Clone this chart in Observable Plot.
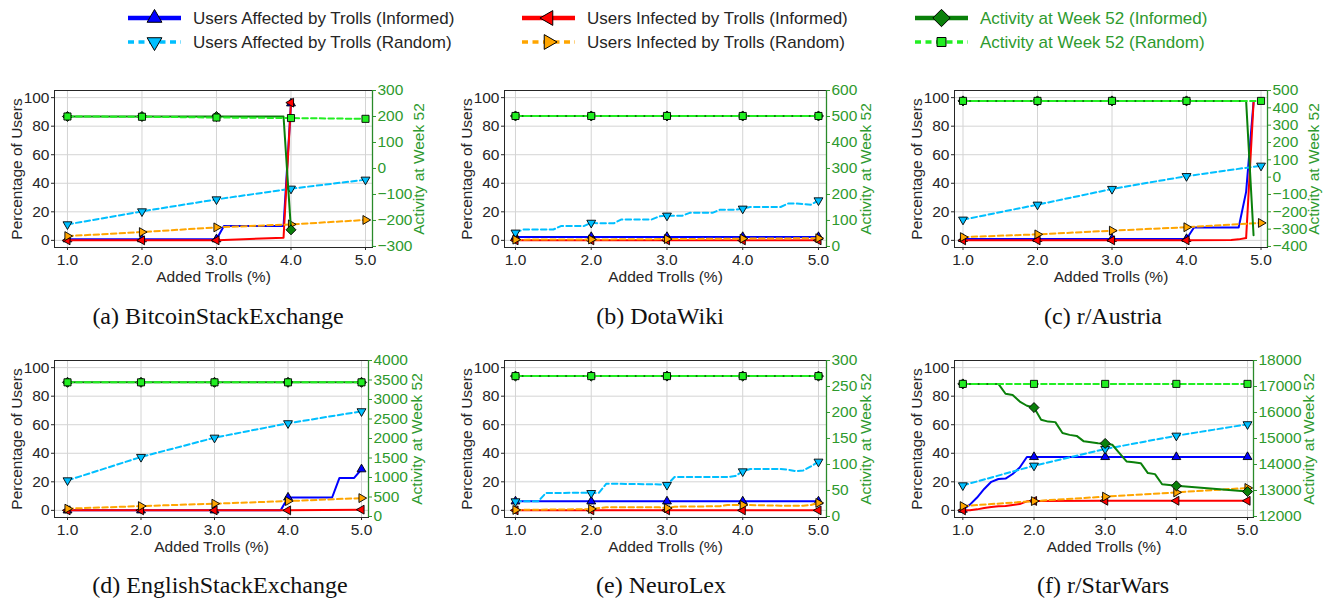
<!DOCTYPE html>
<html><head><meta charset="utf-8">
<script src="https://cdn.jsdelivr.net/npm/d3@7"></script>
<script src="https://cdn.jsdelivr.net/npm/@observablehq/plot@0.6"></script>
<style>
body{margin:0;background:#fff;}
#root{position:relative;width:1326px;height:600px;overflow:hidden;background:#fff;}
#root svg{position:absolute;}
</style></head><body><div id="root"></div>
<script>
// ---------------- data ----------------
const xTicks = [1, 2, 3, 4, 5];
const pctTicks = [0, 20, 40, 60, 80, 100];
const captions = ["(a) BitcoinStackExchange", "(b) DotaWiki", "(c) r/Austria",
                  "(d) EnglishStackExchange", "(e) NeuroLex", "(f) r/StarWars"];
const legendLabels = ["Users Affected by Trolls (Informed)", "Users Affected by Trolls (Random)",
                      "Users Infected by Trolls (Informed)", "Users Infected by Trolls (Random)",
                      "Activity at Week 52 (Informed)", "Activity at Week 52 (Random)"];

// (a) BitcoinStackExchange
const bitcoinAffInf = [[1,0.8],[2,0.8],[3,0.8],[3.1,10],[3.9,10],[4,96]];
const bitcoinAffRnd = [[1,11.2],[2,20.3],[3,28.7],[4,36.2],[5,42.5]];
const bitcoinInfInf = [[1,0],[2,0],[3,0],[3.1,0.3],[3.9,1.8],[4,96.5]];
const bitcoinInfRnd = [[1,3],[2,5.8],[3,9.1],[4,11.2],[5,14.3]];
const bitcoinActInf = [[1,200],[2,200],[3,200],[3.9,200],[4,-236]];
const bitcoinActRnd = [[1,200],[2,199],[3,196],[4,194],[5,191]];
const bitcoinActTicks = [-300,-200,-100,0,100,200,300];

// (b) DotaWiki
const dotaAffInf = [[1,2.4],[2,2.4],[3,2.4],[4,2.4],[5,2.4]];
const dotaAffRnd = [[1,5.4],[1.1,7.6],[1.5,7.6],[1.6,10],[1.9,10],[2,12.3],[2.1,12],[2.3,12],[2.4,14.7],[2.8,14.7],[2.9,16.8],[3,17.3],[3.2,17.2],[3.3,19.3],[3.6,19.3],[3.7,21.5],[3.9,21.5],[4,22.2],[4.1,23.4],[4.5,23.4],[4.6,25.8],[4.7,25.8],[4.9,25],[5,28]];
const dotaInfInf = [[1,0],[2,0],[3,0],[4,0],[5,0]];
const dotaInfRnd = [[1,0.5],[2,0.6],[3,0.9],[4,1.2],[5,1.5]];
const dotaActInf = [[1,502],[2,502],[3,502],[4,502],[5,502]];
const dotaActRnd = [[1,502],[2,502],[3,502],[4,502],[5,502]];
const dotaActTicks = [0,100,200,300,400,500,600];

// (c) r/Austria
const austriaAffInf = [[1,1],[2,1],[3,1],[4,1],[4.1,9],[4.7,9],[4.8,34],[4.9,97]];
const austriaAffRnd = [[1,14.5],[2,25],[3,36],[4,45],[5,52.3]];
const austriaInfInf = [[1,0],[2,0],[3,0],[4,0],[4.6,0.3],[4.7,0.7],[4.8,1.6],[4.9,96.5]];
const austriaInfRnd = [[1,2.3],[2,4.2],[3,6.8],[4,9.2],[5,12.2]];
const austriaActInf = [[1,440],[2,440],[3,440],[4,440],[4.8,440],[4.9,-335]];
const austriaActRnd = [[1,440],[2,440],[3,440],[4,440],[5,440]];
const austriaActTicks = [-400,-300,-200,-100,0,100,200,300,400,500];

// (d) EnglishStackExchange
const englishAffInf = [[1,0],[2,0],[3,0],[3.9,0],[4,9],[4.6,9],[4.7,22.7],[4.9,22.7],[5,28.8]];
const englishAffRnd = [[1,21],[2,37.4],[3,50.9],[4,61],[5,69.4]];
const englishInfInf = [[1,0],[2,0],[3,0],[4,0],[5,0.5]];
const englishInfRnd = [[1,1.2],[2,3],[3,4.7],[4,6.5],[5,8.6]];
const englishActInf = [[1,3440],[2,3440],[3,3440],[4,3440],[5,3440]];
const englishActRnd = [[1,3440],[2,3440],[3,3440],[4,3440],[5,3440]];
const englishActTicks = [0,500,1000,1500,2000,2500,3000,3500,4000];

// (e) NeuroLex
const neuroAffInf = [[1,6.3],[2,6.3],[3,6.3],[4,6.3],[5,6.3]];
const neuroAffRnd = [[1,6.3],[1.3,6.3],[1.4,12.1],[1.9,12.4],[2,12.1],[2.1,12.3],[2.2,18.7],[2.9,18.2],[3,17.8],[3.1,23.4],[3.8,23.4],[3.9,24],[4,27.3],[4.1,29],[4.5,29],[4.6,28.5],[4.7,27.5],[4.8,28],[4.9,30.8],[5,34.1]];
const neuroInfInf = [[1,0],[2,0],[3,0],[4,0],[5,0]];
const neuroInfRnd = [[1,0.3],[1.9,0.8],[2,1],[2.2,2.2],[2.9,2.1],[3,1.6],[3.1,2.6],[3.7,2.9],[3.8,3.8],[4,3.8],[4.5,3.3],[4.8,3.3],[4.9,3.8],[5,5.2]];
const neuroActInf = [[1,270],[2,270],[3,270],[4,270],[5,270]];
const neuroActRnd = [[1,270],[2,270],[3,270],[4,270],[5,270]];
const neuroActTicks = [0,50,100,150,200,250,300];

// (f) r/StarWars
const starwarsAffInf = [[1,0.5],[1.1,4],[1.2,9],[1.3,15],[1.4,20],[1.5,22],[1.6,22.3],[1.7,25.5],[1.8,30],[1.9,37.4],[2,37.4],[3,37.4],[4,37.4],[5,37.4]];
const starwarsAffRnd = [[1,17.5],[2,31.3],[3,43],[4,52.3],[5,60.3]];
const starwarsInfInf = [[1,0],[1.1,0],[1.2,0.7],[1.3,1.6],[1.4,2.3],[1.5,2.8],[1.6,3],[1.7,3.7],[1.8,4.4],[1.9,6.3],[2,6.6],[3,6.7],[4,6.7],[5,6.7]];
const starwarsInfRnd = [[1,3],[2,6.5],[3,9.6],[4,12.6],[5,15.7]];
const starwarsActInf = [[1,17100],[1.5,17100],[1.6,16720],[1.7,16670],[1.8,16420],[1.9,16260],[2,16190],[2.1,15720],[2.2,15650],[2.3,15630],[2.4,15210],[2.5,15140],[2.6,15100],[2.7,14890],[2.8,14860],[2.9,14820],[3,14810],[3.1,14760],[3.2,14440],[3.3,14120],[3.4,14090],[3.5,14050],[3.6,13670],[3.7,13630],[3.8,13240],[3.9,13210],[4,13180],[5,12960]];
const starwarsActRnd = [[1,17100],[2,17100],[3,17100],[4,17100],[5,17100]];
const starwarsActTicks = [12000,13000,14000,15000,16000,17000,18000];

const panels = [
  {affInf: bitcoinAffInf, affRnd: bitcoinAffRnd, infInf: bitcoinInfInf, infRnd: bitcoinInfRnd, actInf: bitcoinActInf, actRnd: bitcoinActRnd, actTicks: bitcoinActTicks},
  {affInf: dotaAffInf, affRnd: dotaAffRnd, infInf: dotaInfInf, infRnd: dotaInfRnd, actInf: dotaActInf, actRnd: dotaActRnd, actTicks: dotaActTicks},
  {affInf: austriaAffInf, affRnd: austriaAffRnd, infInf: austriaInfInf, infRnd: austriaInfRnd, actInf: austriaActInf, actRnd: austriaActRnd, actTicks: austriaActTicks},
  {affInf: englishAffInf, affRnd: englishAffRnd, infInf: englishInfInf, infRnd: englishInfRnd, actInf: englishActInf, actRnd: englishActRnd, actTicks: englishActTicks},
  {affInf: neuroAffInf, affRnd: neuroAffRnd, infInf: neuroInfInf, infRnd: neuroInfRnd, actInf: neuroActInf, actRnd: neuroActRnd, actTicks: neuroActTicks},
  {affInf: starwarsAffInf, affRnd: starwarsAffRnd, infInf: starwarsInfInf, infRnd: starwarsInfRnd, actInf: starwarsActInf, actRnd: starwarsActRnd, actTicks: starwarsActTicks},
];

// ---------------- layout & styles ----------------
const layout = [
  {left:54,  right:372,  top:90,  bottom:247, xDomain:[0.826,5.094], actDomain:[-304,300],    rLabel:51},
  {left:504, right:826,  top:90,  bottom:247, xDomain:[0.855,5.106], actDomain:[-4,600],      rLabel:44},
  {left:954, right:1267, top:90,  bottom:247, xDomain:[0.886,5.087], actDomain:[-406,500],    rLabel:51},
  {left:54,  right:368,  top:360, bottom:517, xDomain:[0.823,5.095], actDomain:[-26,4000],    rLabel:53},
  {left:504, right:826,  top:360, bottom:517, xDomain:[0.855,5.106], actDomain:[-2,300],      rLabel:44},
  {left:954, right:1253, top:360, bottom:517, xDomain:[0.883,5.084], actDomain:[11962,18000], rLabel:60},
];
const captionPos = [[218,324],[660,324],[1103,324],[220,593],[661,593],[1103,593]];

function rotTri(angle){
  return {draw(ctx, size){
    const y = -Math.sqrt(size / (Math.sqrt(3) * 3));
    const pts = [[0, 2*y], [-Math.sqrt(3)*y, -y], [Math.sqrt(3)*y, -y]];
    const c = Math.cos(angle), s = Math.sin(angle);
    pts.forEach(([px, py], k) => { const X = px*c - py*s, Y = px*s + py*c; k ? ctx.lineTo(X, Y) : ctx.moveTo(X, Y); });
    ctx.closePath();
  }};
}
const triUp = rotTri(0), triDown = rotTri(Math.PI), triLeft = rotTri(-Math.PI/2), triRight = rotTri(Math.PI/2);
const diamondSym = {draw(ctx, size){ const r = Math.sqrt(size/2); ctx.moveTo(0,-r); ctx.lineTo(r,0); ctx.lineTo(0,r); ctx.lineTo(-r,0); ctx.closePath(); }};
const squareSym = {draw(ctx, size){ const h = Math.sqrt(size)/2; ctx.moveTo(-h,-h); ctx.lineTo(h,-h); ctx.lineTo(h,h); ctx.lineTo(-h,h); ctx.closePath(); }};

const DASH = "5.5,3.2";
const styles = {
  affInf: {color:"#0000ff", dash:null, sym:triUp,    r:3.3},
  affRnd: {color:"#00bfff", dash:DASH, sym:triDown,  r:3.3},
  infInf: {color:"#ff0000", dash:null, sym:triLeft,  r:3.3},
  infRnd: {color:"#ffa500", dash:DASH, sym:triRight, r:3.3},
  actInf: {color:"#0a800a", dash:null, sym:diamondSym, r:4.0},
  actRnd: {color:"#22ee22", dash:DASH, sym:squareSym,  r:4.0},
};
const GREEN_TEXT = "#2e9a2e";
const FONT = "'Liberation Sans', Arial, Helvetica, sans-serif";
const numFmt = d => (d < 0 ? "\u2212" + Math.abs(d) : String(d));

const root = document.getElementById("root");

function seriesMarks(data, st){
  const onInt = data.filter(d => Math.abs(d[0] - Math.round(d[0])) < 1e-9);
  return [
    Plot.line(data, {x: d => d[0], y: d => d[1], stroke: st.color, strokeWidth: 2, strokeDasharray: st.dash || undefined}),
    Plot.dot(onInt, {x: d => d[0], y: d => d[1], symbol: st.sym, r: st.r, fill: st.color, stroke: "#000", strokeWidth: 0.9})
  ];
}

const ML = 60, MR = 70, MT = 10, MB = 50;
panels.forEach((P, i) => {
  const L = layout[i];
  const width = (L.right - L.left) + ML + MR;
  const height = (L.bottom - L.top) + MT + MB;
  const common = {width, height, marginLeft: ML, marginRight: MR, marginTop: MT, marginBottom: MB};
  const pA = Plot.plot({
    ...common,
    style: {fontFamily: FONT, fontSize: "15.5px", color: "#262626", background: "transparent", overflow: "visible"},
    x: {domain: L.xDomain},
    y: {domain: [-5, 105]},
    marks: [
      Plot.gridX(xTicks, {stroke: "#d4d4d4", strokeOpacity: 1, strokeWidth: 1}),
      Plot.gridY(pctTicks, {stroke: "#d4d4d4", strokeOpacity: 1, strokeWidth: 1}),
      Plot.axisX(xTicks, {tickFormat: d3.format(".1f"), tickSize: 3, tickPadding: 3, label: "Added Trolls (%)", labelAnchor: "center", labelArrow: "none", labelOffset: 34}),
      Plot.axisY(pctTicks, {tickSize: 3, tickPadding: 2, label: "Percentage of Users", labelAnchor: "center", labelArrow: "none", labelOffset: 44}),
      ...seriesMarks(P.affInf, styles.affInf),
      ...seriesMarks(P.affRnd, styles.affRnd),
      ...seriesMarks(P.infInf, styles.infInf),
      ...seriesMarks(P.infRnd, styles.infRnd),
      Plot.frame({stroke: "#262626", strokeWidth: 1})
    ]
  });
  const pB = Plot.plot({
    ...common,
    style: {fontFamily: FONT, fontSize: "15.5px", color: GREEN_TEXT, background: "transparent", overflow: "visible"},
    x: {domain: L.xDomain, axis: null},
    y: {domain: L.actDomain},
    marks: [
      Plot.axisY(P.actTicks, {anchor: "right", tickFormat: numFmt, tickSize: 3, tickPadding: 2, label: "Activity at Week 52", labelAnchor: "center", labelArrow: "none", labelOffset: L.rLabel}),
      Plot.ruleX([L.xDomain[1]], {stroke: "#2a8a2a", strokeWidth: 1.3}),
      ...seriesMarks(P.actInf, styles.actInf),
      ...seriesMarks(P.actRnd, styles.actRnd)
    ]
  });
  for (const el of [pA, pB]) {
    el.style.position = "absolute";
    el.style.left = (L.left - ML) + "px";
    el.style.top = (L.top - MT) + "px";
    el.style.maxWidth = "none";
    root.appendChild(el);
  }
});

// ---------------- legend & captions ----------------
const ov = d3.select(root).append("svg")
  .attr("width", 1326).attr("height", 600)
  .style("left", "0px").style("top", "0px").style("pointer-events", "none");

const legendCols = [128, 522, 915], legendRows = [18, 42];
const legendKeys = ["affInf", "affRnd", "infInf", "infRnd", "actInf", "actRnd"];
const legendSizes = {affInf: 95, affRnd: 95, infInf: 95, infRnd: 95, actInf: 150, actRnd: 80};
legendKeys.forEach((k, j) => {
  const st = styles[k];
  const cx = legendCols[Math.floor(j / 2)], cy = legendRows[j % 2];
  const informed = !st.dash;
  ov.append("line").attr("x1", cx).attr("x2", cx + 53).attr("y1", cy).attr("y2", cy)
    .attr("stroke", st.color).attr("stroke-width", informed ? 4.5 : 3.5)
    .attr("stroke-dasharray", informed ? null : "6,4.5");
  const p = d3.path(); st.sym.draw(p, legendSizes[k]);
  ov.append("path").attr("d", p.toString()).attr("transform", `translate(${cx + 26.5},${cy})`)
    .attr("fill", st.color).attr("stroke", "#000").attr("stroke-width", 1);
  ov.append("text").attr("x", cx + 65).attr("y", cy).attr("dy", "0.35em")
    .attr("font-family", FONT).attr("font-size", 17)
    .attr("fill", j >= 4 ? GREEN_TEXT : "#262626").text(legendLabels[j]);
});

captions.forEach((c, i) => {
  ov.append("text").attr("x", captionPos[i][0]).attr("y", captionPos[i][1])
    .attr("text-anchor", "middle").attr("font-family", "'Liberation Serif', 'Times New Roman', serif")
    .attr("font-size", 24).attr("fill", "#111").text(c);
});
</script></body></html>
